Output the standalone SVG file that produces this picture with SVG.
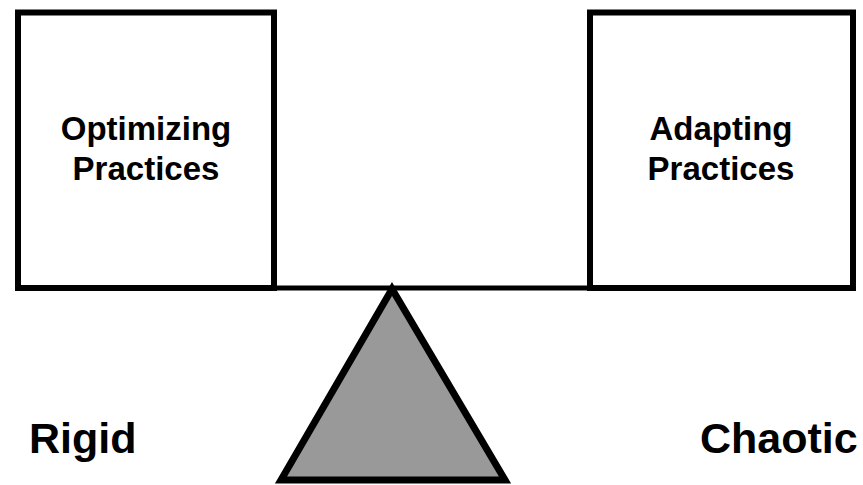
<svg xmlns="http://www.w3.org/2000/svg" width="863" height="485" viewBox="0 0 863 485">
  <style>
    .box { fill: #ffffff; stroke: #000000; stroke-width: 6; }
    .beam { stroke: #000000; stroke-width: 5; fill: none; }
    .pivot { fill: #999999; stroke: #000000; stroke-width: 7; stroke-linejoin: miter; }
    .label { font-family: "Liberation Sans", Arial, sans-serif; font-weight: bold; fill: #000000; }
    .boxtext { font-size: 33px; text-anchor: middle; }
    .side { font-size: 43px; }
  </style>
  <rect width="863" height="485" fill="#ffffff"/>
  <!-- balance beam -->
  <g id="connectors">
    <line class="beam" x1="274" y1="288" x2="590" y2="288"/>
  </g>
  <!-- fulcrum -->
  <g id="fulcrum">
    <polygon class="pivot" points="392,289 281,480 505,480"/>
  </g>
  <g id="optimizing">
    <rect class="box" x="18" y="12.5" width="256" height="275.5"/>
    <text class="label boxtext" x="146" y="140">Optimizing</text>
    <text class="label boxtext" x="146" y="180">Practices</text>
  </g>
  <g id="adapting">
    <rect class="box" x="590" y="12.5" width="263" height="275.5"/>
    <text class="label boxtext" x="721" y="140">Adapting</text>
    <text class="label boxtext" x="721" y="180">Practices</text>
  </g>
  <g id="rigid">
    <text class="label side" x="29" y="453">Rigid</text>
  </g>
  <g id="chaotic">
    <text class="label side" x="700" y="453">Chaotic</text>
  </g>
</svg>
